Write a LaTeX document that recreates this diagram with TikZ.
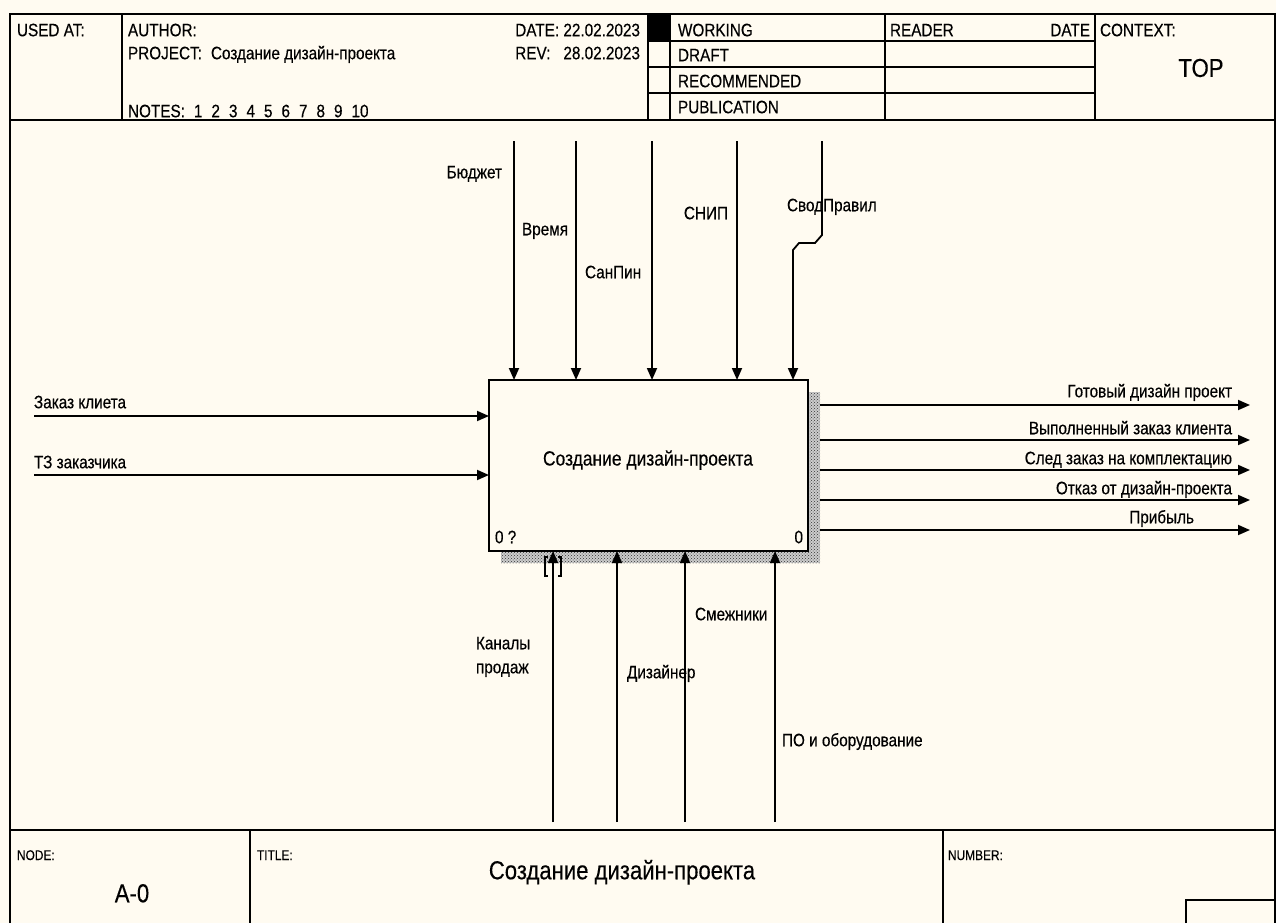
\documentclass[tikz,border=0pt]{standalone}
\usepackage{fontspec}
\setmainfont[FakeStretch=0.85,FakeBold=0.3]{Liberation Sans}
\usepackage{tikz}
\usetikzlibrary{arrows.meta,positioning,patterns}
\definecolor{paper}{RGB}{255,251,241}

\begin{document}
\begin{tikzpicture}[x=1pt, y=-1pt, >={Triangle[length=12pt,width=10pt]},
  every node/.style={inner sep=0pt, outer sep=0pt},
  lbl/.style={font=\fontsize{18}{21}\selectfont, text height=12.5pt, text depth=0pt},
  hdr/.style={font=\fontsize{18}{21}\selectfont, text height=12.5pt, text depth=0pt},
  small/.style={font=\fontsize{14}{16}\selectfont, text height=10pt, text depth=0pt},
  big/.style={font=\fontsize{26}{29}\selectfont, text height=18.5pt, text depth=0pt},
  frame/.style={line width=1.8pt},
  cell/.style={line width=1.3pt},
  shade/.style={fill=gray!40, postaction={pattern=crosshatch dots, pattern color=black!80}},
  arr/.style={->, line width=1.8pt}]
\fill[paper] (0,0) rectangle (1276,923);
\useasboundingbox (0,0) rectangle (1276,923);

% frame and header
\draw[frame] (10,923) -- (10,14) -- (1275,14) -- (1275,923);
\draw[frame] (10,120) -- (1275,120);
\draw[cell] (122,14) -- (122,120);
\draw[cell] (648,14) -- (648,120);
\draw[cell] (670,14) -- (670,120);
\draw[cell] (885,14) -- (885,120);
\draw[cell] (1095,14) -- (1095,120);
\draw[cell] (648,41) -- (1095,41);
\draw[cell] (648,67) -- (1095,67);
\draw[cell] (648,93) -- (1095,93);
\fill (648,14) rectangle (670,41);
\node[hdr, anchor=west] (used) at (17,30) {USED AT:};
\node[hdr, anchor=west] (author) at (128,30) {AUTHOR:};
\node[hdr, anchor=west] (project) at (128,53) {PROJECT:\enspace Создание дизайн-проекта};
\node[hdr, anchor=west] (notes) at (128,111) {NOTES:\enspace 1\enspace 2\enspace 3\enspace 4\enspace 5\enspace 6\enspace 7\enspace 8\enspace 9\enspace 10};
\node[hdr, anchor=east] (date) at (640,30) {DATE: 22.02.2023};
\node[hdr, anchor=west] (rev) at (date.west |- 0,53) {REV:};
\node[hdr, anchor=east] (revdate) at (640,53) {28.02.2023};
\node[hdr, anchor=west] (working) at (678,30) {WORKING};
\node[hdr, anchor=west] (draft) at (678,55) {DRAFT};
\node[hdr, anchor=west] (recom) at (678,81) {RECOMMENDED};
\node[hdr, anchor=west] (publ) at (678,107) {PUBLICATION};
\node[hdr, anchor=west] (reader) at (890,30) {READER};
\node[hdr, anchor=east] (rdate) at (1090,30) {DATE};
\node[hdr, anchor=west] (context) at (1100,30) {CONTEXT:};
\node[font=\fontsize{26}{28}\selectfont] (top) at (1201,68) {TOP};

% activity box
\node[draw, line width=2pt, fill=paper, minimum width=319, minimum height=171] (box) at (648.5,465.5) {};
\node[font=\fontsize{20.5}{24}\selectfont, text height=15pt, text depth=0pt] (boxtxt) at (648,458) {Создание дизайн-проекта};
\node[lbl, anchor=west] (num) at (495,537) {0 ?};
\node[lbl, anchor=east] (num2) at (803,537) {0};

% inputs
\coordinate (in1) at (34,416);
\coordinate (in2) at (34,475);
\draw[arr] (in1) -- (in1 -| box.west);
\draw[arr] (in2) -- (in2 -| box.west);
\node[lbl, anchor=west] (zak) at (34,402) {Заказ клиета};
\node[lbl, anchor=west] (tz) at (34,462) {ТЗ заказчика};

% outputs
\coordinate (o1) at (1250,405);
\coordinate (o2) at (1250,440);
\coordinate (o3) at (1250,470);
\coordinate (o4) at (1250,500);
\coordinate (o5) at (1250,530);
\foreach \o in {o1,o2,o3,o4,o5}
  \draw[arr] (box.east |- \o) -- (\o);
\node[lbl, anchor=east] (gotov) at (1232,391) {Готовый дизайн проект};
\node[lbl, anchor=east] (vypol) at (1232,428) {Выполненный заказ клиента};
\node[lbl, anchor=east] (sled) at (1232,458) {След заказ на комплектацию};
\node[lbl, anchor=east] (otkaz) at (1232,488) {Отказ от дизайн-проекта};
\node[lbl, anchor=east] (pribyl) at (1194,517) {Прибыль};

% shadow
\path[shade] ([shift={(1,12)}]box.north east) rectangle ([shift={(12,12)}]box.south east);
\path[shade] ([shift={(12,1)}]box.south west) rectangle ([shift={(1,12)}]box.south east);

% controls
\coordinate (c1) at (514,141);
\coordinate (c2) at (576,141);
\coordinate (c3) at (652,141);
\coordinate (c4) at (737,141);
\coordinate (c5) at (822,141);
\foreach \c in {c1,c2,c3,c4}
  \draw[arr] (\c) -- (\c |- box.north);
\draw[arr] (c5) -- ++(0,94) -- ++(-7,8) -- ++(-16,0) -- ++(-6,7) coordinate (c5j) -- (c5j |- box.north);
\node[lbl, anchor=east] (budget) at (502,172) {Бюджет};
\node[lbl, anchor=west] (vremya) at (522,229) {Время};
\node[lbl, anchor=west] (sanpin) at (585,272) {СанПин};
\node[lbl, anchor=east] (snip) at (728,213) {СНИП};
\node[lbl, anchor=west] (svod) at (787,205) {СводПравил};

% mechanisms
\coordinate (m1) at (553,822);
\coordinate (m2) at (617,822);
\coordinate (m3) at (685,822);
\coordinate (m4) at (775,822);
\foreach \m in {m1,m2,m3,m4}
  \draw[arr] (\m) -- (\m |- box.south);
\draw[cell] (548,557) -- (545,557) -- (545,576) -- (548,576);
\draw[cell] (558,557) -- (561,557) -- (561,576) -- (558,576);
\node[lbl, anchor=west] (kan1) at (476,643) {Каналы};
\node[lbl, anchor=west] (kan2) at (476,667) {продаж};
\node[lbl, anchor=west] (dizayner) at (627,672) {Дизайнер};
\node[lbl, anchor=west] (smezh) at (695,614) {Смежники};
\node[lbl, anchor=west] (po) at (782,740) {ПО и оборудование};

% footer
\draw[frame] (10,830) -- (1275,830);
\draw[cell] (250,830) -- (250,923);
\draw[cell] (943,830) -- (943,923);
\draw[cell] (1186,923) -- (1186,900) -- (1275,900);
\node[small, anchor=west] (nodelbl) at (17,855) {NODE:};
\node[big] (nodeid) at (132,893) {A-0};
\node[small, anchor=west] (titlelbl) at (257,855) {TITLE:};
\node[big] (title) at (622,870) {Создание дизайн-проекта};
\node[small, anchor=west] (numlbl) at (948,855) {NUMBER:};
\end{tikzpicture}
\end{document}
